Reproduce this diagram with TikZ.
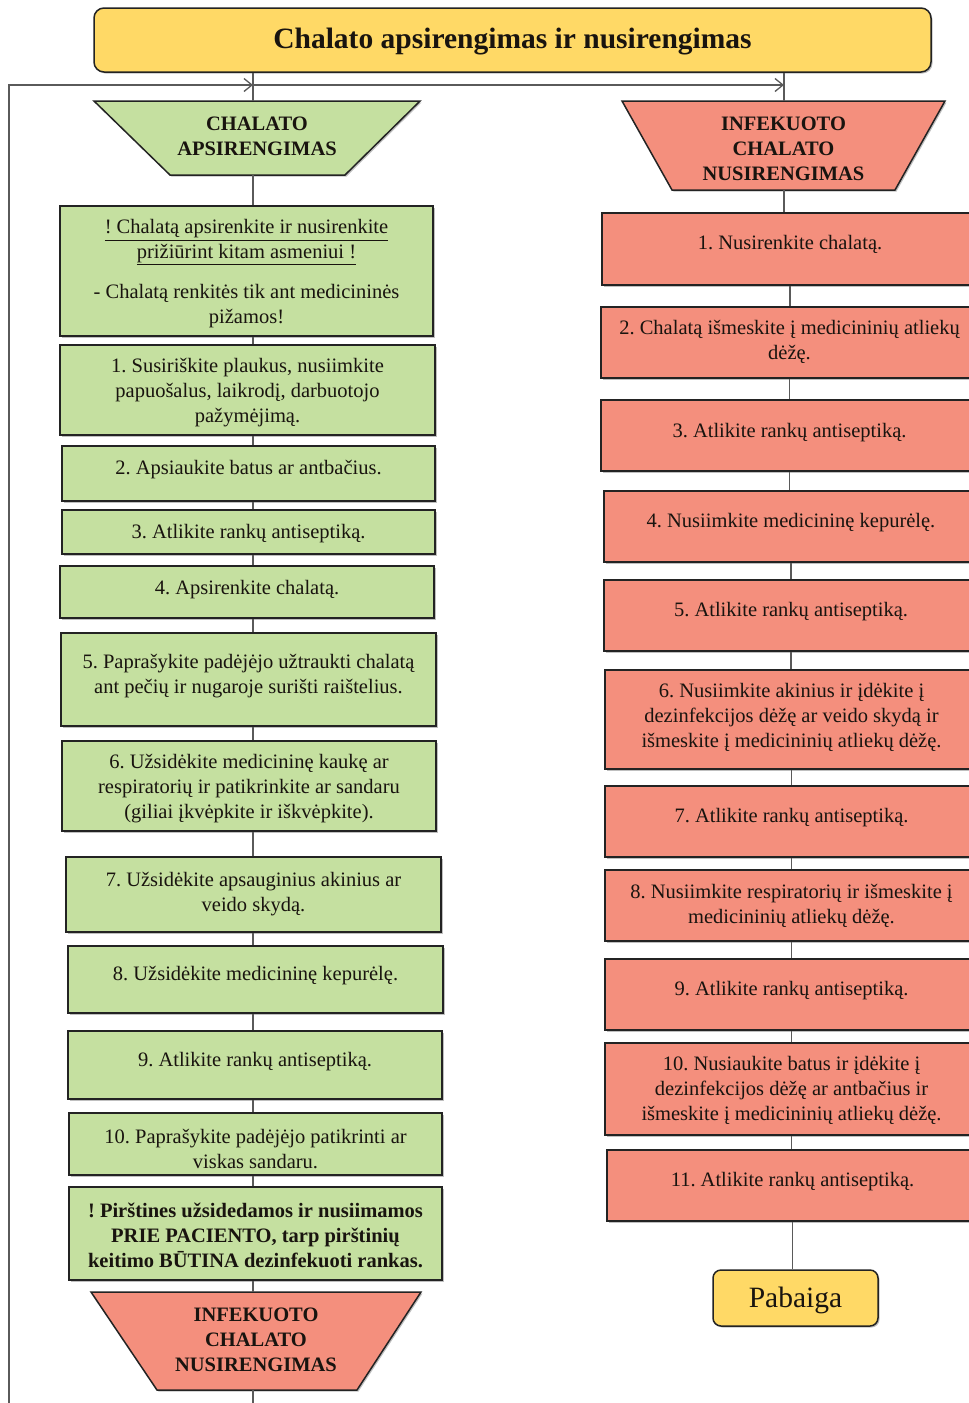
\documentclass[tikz,border=0pt]{standalone}
\usepackage{fontspec}
\setmainfont{Liberation Serif}
\frenchspacing
\usetikzlibrary{arrows.meta,shadows}
\definecolor{gfill}{RGB}{197,224,160}
\definecolor{rfill}{RGB}{244,143,125}
\definecolor{yfill}{RGB}{255,217,102}
\definecolor{edgecol}{RGB}{35,35,35}
\definecolor{conncol}{RGB}{90,90,90}
\definecolor{txt}{RGB}{25,20,15}
\tikzset{
 shad/.style={drop shadow={shadow xshift=1.5pt, shadow yshift=-1.5pt, fill=black, opacity=0.25}},
 boxbase/.style={draw=edgecol, line width=1.5pt, rectangle, inner sep=0pt, shad},
 gbox/.style={boxbase, fill=gfill},
 rbox/.style={boxbase, fill=rfill},
 trapshape/.style={draw=edgecol, line width=1.5pt, shad},
 txtnode/.style={align=center, text=txt, font=\fontsize{20.5}{25}\selectfont, inner sep=0pt, yshift=-2.5pt},
 boldtxt/.style={txtnode, font=\fontsize{20.5}{25}\selectfont\bfseries},
 conn/.style={draw=conncol, line width=1.3pt},
 barb/.style={-{Straight Barb[length=8pt,width=13pt]}}
}
\newcommand\mybox[6]{\node[#1, minimum width={(#5-#3)*1pt}, minimum height={(#6-#4)*1pt}] (#2) at ({(#3+#5)/2},{(#4+#6)/2}) {};}
\begin{document}
\begin{tikzpicture}[x=1pt,y=-1pt]
\useasboundingbox (0,0) rectangle (969,1403);
\clip (0,0) rectangle (969,1403);
\fill[white] (0,0) rectangle (969,1403);
\coordinate (colL) at (253,85);
\coordinate (colR) at (784,85);
\coordinate (loopB) at (253,1430);
\coordinate (loopBL) at (9,1430);
\coordinate (loopTL) at (9,85);

% title
\node[draw=edgecol, line width=1.5pt, fill=yfill, rounded corners=10pt, minimum width=837pt, minimum height=64pt, shad] (title) at (512.5,40) {};
\node[txtnode, font=\fontsize{29.5}{34}\selectfont\bfseries] (titlet) at (512.5,39) {Chalato apsirengimas ir nusirengimas};

% trapezoids
\path[trapshape, fill=gfill] (94,101) -- (420,101) -- (345,175) -- (170,175) -- cycle;
\coordinate (trapLn) at (257,101);
\coordinate (trapLs) at (257,175);
\node[boldtxt] (trapLt) at (257,133.5) {CHALATO\\APSIRENGIMAS};
\path[trapshape, fill=rfill] (622,101) -- (945,101) -- (895,190) -- (672,190) -- cycle;
\coordinate (trapRn) at (784,101);
\coordinate (trapRs) at (784,190);
\node[boldtxt] (trapRt) at (783.5,146) {INFEKUOTO\\CHALATO\\NUSIRENGIMAS};
\path[trapshape, fill=rfill] (91,1292) -- (421,1292) -- (357,1390) -- (157,1390) -- cycle;
\coordinate (trapBn) at (256,1292);
\coordinate (trapBs) at (256,1390);
\node[boldtxt] (trapBt) at (256,1337) {INFEKUOTO\\CHALATO\\NUSIRENGIMAS};

% left column
\mybox{gbox}{b0}{60}{206}{433}{336}
\mybox{gbox}{b1}{60}{345}{435}{435}
\mybox{gbox}{b2}{62}{446}{435}{501}
\mybox{gbox}{b3}{62}{510}{435}{554}
\mybox{gbox}{b4}{60}{566}{434}{618}
\mybox{gbox}{b5}{61}{633}{436}{726}
\mybox{gbox}{b6}{62}{741}{436}{831}
\mybox{gbox}{b7}{66}{857}{441}{932}
\mybox{gbox}{b8}{68}{946}{443}{1013}
\mybox{gbox}{b9}{68}{1031}{442}{1099}
\mybox{gbox}{b10}{69}{1113}{442}{1175}
\mybox{gbox}{b11}{69}{1187}{442}{1280}

\node[txtnode] (b0t) at (246.5,271.5) {\underline{! Chalatą apsirenkite ir nusirenkite}\\\underline{prižiūrint kitam asmeniui !}\\[15pt]- Chalatą renkitės tik ant medicininės\\pižamos!};
\node[txtnode] (b1t) at (247.5,390) {1. Susiriškite plaukus, nusiimkite\\papuošalus, laikrodį, darbuotojo\\pažymėjimą.};
\node[txtnode] (b2t) at (248.5,467) {2. Apsiaukite batus ar antbačius.};
\node[txtnode] (b3t) at (248.5,531) {3. Atlikite rankų antiseptiką.};
\node[txtnode] (b4t) at (247,587) {4. Apsirenkite chalatą.};
\node[txtnode] (b5t) at (248.5,673.5) {5. Paprašykite padėjėjo užtraukti chalatą\\ant pečių ir nugaroje surišti raištelius.};
\node[txtnode] (b6t) at (249,786.5) {6. Užsidėkite medicininę kaukę ar\\respiratorių ir patikrinkite ar sandaru\\(giliai įkvėpkite ir iškvėpkite).};
\node[txtnode] (b7t) at (253.5,891.5) {7. Užsidėkite apsauginius akinius ar\\veido skydą.};
\node[txtnode] (b8t) at (255.5,973) {8. Užsidėkite medicininę kepurėlę.};
\node[txtnode] (b9t) at (255,1059) {9. Atlikite rankų antiseptiką.};
\node[txtnode] (b10t) at (255.5,1146.5) {10. Paprašykite padėjėjo patikrinti ar\\viskas sandaru.};
\node[boldtxt] (b11t) at (255.5,1232.5) {! Pirštines užsidedamos ir nusiimamos\\PRIE PACIENTO, tarp pirštinių\\keitimo BŪTINA dezinfekuoti rankas.};

% right column
\mybox{rbox}{r1}{602}{213}{978}{285}
\mybox{rbox}{r2}{601}{307}{978}{378}
\mybox{rbox}{r3}{601}{400}{978}{471}
\mybox{rbox}{r4}{604}{491}{978}{562}
\mybox{rbox}{r5}{604}{580}{978}{651}
\mybox{rbox}{r6}{605}{670}{978}{769}
\mybox{rbox}{r7}{605}{786}{978}{857}
\mybox{rbox}{r8}{605}{870}{978}{941}
\mybox{rbox}{r9}{605}{959}{978}{1030}
\mybox{rbox}{r10}{605}{1043}{978}{1135}
\mybox{rbox}{r11}{607}{1150}{978}{1221}

\node[txtnode] (r1t) at (790,242) {1. Nusirenkite chalatą.};
\node[txtnode] (r2t) at (789.5,339.5) {2. Chalatą išmeskite į medicininių atliekų\\dėžę.};
\node[txtnode] (r3t) at (789.5,430) {3. Atlikite rankų antiseptiką.};
\node[txtnode] (r4t) at (791,520) {4. Nusiimkite medicininę kepurėlę.};
\node[txtnode] (r5t) at (791,609) {5. Atlikite rankų antiseptiką.};
\node[txtnode] (r6t) at (791.5,714.5) {6. Nusiimkite akinius ir įdėkite į\\dezinfekcijos dėžę ar veido skydą ir\\išmeskite į medicininių atliekų dėžę.};
\node[txtnode] (r7t) at (791.5,815) {7. Atlikite rankų antiseptiką.};
\node[txtnode] (r8t) at (791.5,903) {8. Nusiimkite respiratorių ir išmeskite į\\medicininių atliekų dėžę.};
\node[txtnode] (r9t) at (791.5,988) {9. Atlikite rankų antiseptiką.};
\node[txtnode] (r10t) at (791.5,1087.5) {10. Nusiaukite batus ir įdėkite į\\dezinfekcijos dėžę ar antbačius ir\\išmeskite į medicininių atliekų dėžę.};
\node[txtnode] (r11t) at (792.5,1179) {11. Atlikite rankų antiseptiką.};

% end
\node[draw=edgecol, line width=1.5pt, fill=yfill, rounded corners=8pt, minimum width=165pt, minimum height=56pt, shad] (pab) at (795.5,1298) {};
\node[txtnode, font=\fontsize{29.5}{34}\selectfont] (pabt) at (795.5,1298) {Pabaiga};

% connectors
\draw[conn] (title.south -| colL) -- (trapLn -| colL);
\draw[conn] (title.south -| colR) -- (trapRn);
\draw[conn, barb] (trapBs -| colL) -- (loopB) -- (loopBL) -- (loopTL) -- (colL);
\draw[conn, barb] (colL) -- (colR);
\draw[conn] (trapLs -| colL) -- (b0.north -| colL);
\foreach \a/\b in {b0/b1,b1/b2,b2/b3,b3/b4,b4/b5,b5/b6,b6/b7,b7/b8,b8/b9,b9/b10,b10/b11}
  \draw[conn] (\a.south -| colL) -- (\b.north -| colL);
\draw[conn] (b11.south -| colL) -- (trapBn -| colL);
\draw[conn] (trapRs) -- (trapRs |- r1.north);
\foreach \a/\b in {r1/r2,r2/r3,r3/r4,r4/r5,r5/r6,r6/r7,r7/r8,r8/r9,r9/r10,r10/r11}
  \draw[conn] (\a.south) -- (\a.south |- \b.north);
\draw[conn] (r11.south) -- (r11.south |- pab.north);
\end{tikzpicture}
\end{document}
